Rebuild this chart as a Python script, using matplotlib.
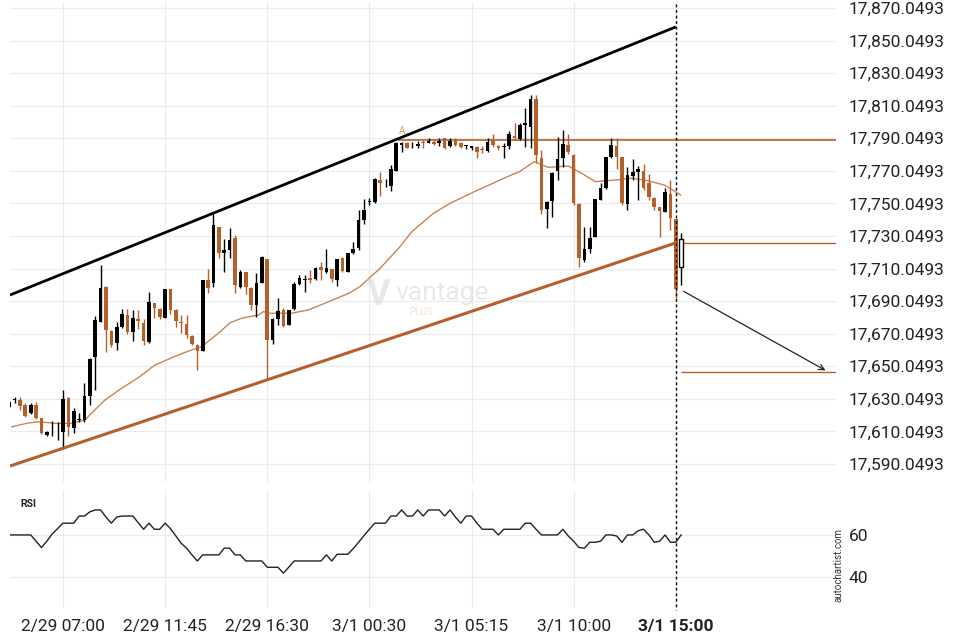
import matplotlib
matplotlib.use("Agg")
import matplotlib.pyplot as plt
from matplotlib.lines import Line2D

plt.rcParams['font.family'] = ['Roboto', 'DejaVu Sans']

# 15-minute candles (index 0 = first bar on the left)
opens = [17625.0, 17629.6, 17629.3, 17626.3, 17621.2, 17626.3, 17618.1, 17608.0, 17608.8, 17608.8,
         17609.9, 17630.8, 17612.0, 17617.3, 17617.1, 17631.8, 17655.6, 17677.4, 17698.5, 17671.7,
         17664.5, 17674.0, 17681.5, 17671.3, 17679.1, 17676.8, 17665.1, 17688.7, 17685.0, 17679.9,
         17697.3, 17684.6, 17677.4, 17676.0, 17668.6, 17663.1, 17659.4, 17703.0, 17700.9, 17735.4,
         17719.4, 17721.4, 17728.6, 17698.9, 17707.7, 17698.3, 17687.7, 17701.4, 17715.9, 17666.2,
         17678.9, 17684.6, 17675.4, 17685.0, 17700.4, 17703.2, 17704.1, 17703.6, 17710.8, 17708.1,
         17709.6, 17703.0, 17716.4, 17708.1, 17719.4, 17722.5, 17739.9, 17751.0, 17751.1, 17764.5,
         17762.3, 17760.7, 17770.2, 17785.9, 17787.3, 17786.3, 17785.3, 17787.4, 17787.3, 17787.9,
         17786.9, 17790.0, 17785.5, 17789.4, 17787.3, 17785.2, 17783.9, 17784.9, 17783.0, 17782.4,
         17789.0, 17785.3, 17784.5, 17785.3, 17791.4, 17789.6, 17798.2, 17797.2, 17814.2, 17777.8,
         17746.4, 17751.7, 17770.2, 17777.8, 17785.9, 17779.8, 17749.7, 17715.3, 17721.9, 17729.6,
         17752.2, 17759.3, 17778.4, 17785.3, 17778.4, 17749.5, 17767.1, 17769.5, 17769.9, 17762.4,
         17753.6, 17748.0, 17744.9, 17755.8, 17740.3, 17711.2]
highs = [17628.7, 17631.4, 17631.4, 17627.7, 17627.3, 17628.1, 17618.3, 17610.3, 17616.6, 17616.0,
         17635.5, 17631.4, 17624.6, 17621.2, 17640.0, 17655.3, 17680.9, 17712.2, 17699.3, 17672.3,
         17677.4, 17685.0, 17685.0, 17684.6, 17684.6, 17679.1, 17695.8, 17689.1, 17685.6, 17697.5,
         17697.5, 17685.2, 17681.5, 17681.5, 17669.3, 17663.5, 17703.2, 17709.6, 17744.0, 17735.8,
         17728.0, 17734.8, 17730.7, 17709.2, 17708.1, 17698.7, 17707.1, 17717.7, 17716.2, 17679.5,
         17691.8, 17685.6, 17684.9, 17701.8, 17706.1, 17706.1, 17709.2, 17710.7, 17714.3, 17721.9,
         17709.8, 17715.9, 17717.3, 17719.6, 17726.5, 17746.0, 17752.6, 17753.2, 17765.5, 17769.5,
         17764.9, 17773.6, 17787.8, 17787.8, 17787.8, 17787.9, 17788.6, 17789.0, 17790.0, 17789.0,
         17790.0, 17790.2, 17790.0, 17790.0, 17787.9, 17785.9, 17785.4, 17785.3, 17785.3, 17790.0,
         17792.7, 17785.9, 17787.3, 17794.7, 17799.4, 17799.6, 17808.6, 17816.6, 17816.6, 17782.9,
         17751.5, 17769.3, 17791.0, 17795.1, 17792.7, 17780.1, 17750.0, 17735.8, 17735.8, 17752.8,
         17762.4, 17778.6, 17790.0, 17790.0, 17778.6, 17772.2, 17777.1, 17773.0, 17774.3, 17768.1,
         17753.7, 17748.1, 17759.3, 17764.4, 17740.5, 17732.1]
lows = [17624.4, 17627.3, 17623.2, 17619.1, 17620.7, 17617.7, 17608.5, 17607.4, 17607.4, 17604.8,
        17599.3, 17607.4, 17608.9, 17616.0, 17616.0, 17626.3, 17635.5, 17677.2, 17659.0, 17661.7,
        17660.0, 17673.4, 17669.9, 17665.6, 17672.7, 17663.1, 17664.5, 17679.5, 17679.1, 17679.7,
        17681.9, 17674.0, 17670.3, 17667.2, 17663.1, 17647.8, 17659.2, 17694.9, 17698.5, 17716.4,
        17707.7, 17716.4, 17694.9, 17697.9, 17694.4, 17684.6, 17680.5, 17701.2, 17641.6, 17663.7,
        17675.4, 17674.3, 17675.1, 17684.6, 17699.9, 17695.8, 17701.0, 17703.0, 17703.0, 17707.5,
        17702.0, 17699.5, 17708.1, 17707.9, 17719.0, 17721.4, 17737.4, 17749.1, 17750.5, 17754.6,
        17760.3, 17757.9, 17770.0, 17781.4, 17783.9, 17783.9, 17783.9, 17783.9, 17786.9, 17785.9,
        17785.3, 17783.3, 17784.9, 17785.3, 17783.9, 17783.3, 17782.9, 17777.8, 17781.2, 17781.8,
        17784.9, 17782.9, 17777.8, 17783.3, 17789.0, 17789.0, 17784.9, 17783.9, 17774.7, 17743.6,
        17734.8, 17741.9, 17764.4, 17772.6, 17780.4, 17749.1, 17710.8, 17714.3, 17719.4, 17729.4,
        17751.9, 17759.1, 17778.2, 17771.0, 17749.1, 17746.0, 17764.4, 17752.2, 17758.3, 17752.2,
        17746.0, 17729.6, 17744.8, 17733.7, 17691.8, 17699.9]
closes = [17628.1, 17630.0, 17625.8, 17619.7, 17626.3, 17618.1, 17608.9, 17609.5, 17609.0, 17609.0,
          17630.0, 17612.9, 17622.6, 17617.6, 17631.8, 17654.7, 17678.5, 17697.9, 17672.3, 17663.1,
          17674.0, 17682.2, 17670.9, 17679.5, 17677.9, 17665.8, 17689.7, 17685.6, 17680.5, 17697.3,
          17684.6, 17677.9, 17676.4, 17669.3, 17663.7, 17659.6, 17703.0, 17698.3, 17736.8, 17719.8,
          17721.4, 17727.6, 17699.9, 17707.7, 17698.9, 17687.7, 17700.9, 17717.3, 17666.2, 17678.9,
          17684.0, 17675.0, 17684.6, 17700.6, 17704.4, 17703.6, 17703.0, 17710.2, 17709.2, 17710.2,
          17703.4, 17715.7, 17708.6, 17719.4, 17721.9, 17739.9, 17746.0, 17751.3, 17764.9, 17762.4,
          17762.5, 17771.0, 17787.3, 17787.3, 17784.3, 17786.5, 17786.4, 17787.2, 17788.4, 17786.4,
          17788.4, 17783.9, 17788.6, 17785.9, 17784.5, 17785.4, 17785.3, 17781.8, 17782.8, 17787.9,
          17785.9, 17783.9, 17785.3, 17792.7, 17790.2, 17798.2, 17799.6, 17814.2, 17779.8, 17746.0,
          17751.1, 17768.9, 17777.1, 17786.5, 17781.8, 17750.1, 17716.4, 17721.9, 17728.6, 17752.6,
          17759.3, 17778.4, 17785.9, 17778.4, 17750.1, 17767.5, 17769.5, 17771.0, 17759.3, 17753.8,
          17747.7, 17745.6, 17757.2, 17740.9, 17697.5, 17728.0]

# moving average, sampled along the thin orange curve (bar index, price)
ma_idx = [0.5, 3.2, 5.4, 8.5, 11.6, 14.1, 15.3, 17.8, 20.9, 24.0, 27.1, 31.4, 33.9, 35.8, 38.9,
          41.1, 43.2, 46.3, 47.3, 48.2, 52.5, 55.6, 58.7, 63.4, 65.2, 69.0, 72.7, 74.9, 78.9, 82.0,
          87.2, 93.4, 94.9, 97.7, 100.2, 104.0, 106.5, 109.0, 112.7, 115.8, 118.7, 121.9, 123.4, 124.9]
ma_val = [17612.9, 17615.0, 17616.0, 17615.0, 17615.0, 17617.1, 17621.2, 17629.3, 17636.5, 17643.0,
          17650.8, 17656.9, 17660.0, 17662.1, 17670.3, 17676.8, 17679.5, 17681.5, 17683.6, 17682.6,
          17682.6, 17684.6, 17688.7, 17695.2, 17698.9, 17710.2, 17723.5, 17732.7, 17743.9, 17750.1,
          17758.3, 17767.5, 17769.5, 17775.7, 17772.2, 17773.0, 17768.5, 17763.4, 17764.4, 17765.5,
          17764.0, 17761.3, 17758.3, 17755.2]

rsi = [60, 60, 60, 60, 60, 57, 54, 57, 60.5, 63, 65.6, 65.6, 65.6, 69, 69, 71, 71.9, 71.9, 68.5, 65.6,
       68.5, 69, 69, 69, 65.8, 62.7, 65.6, 62.7, 62.7, 65.6, 63, 59.5, 56, 53.7, 50.5, 47.6, 50.5, 50.5,
       50.5, 50.5, 53.7, 53.7, 50.5, 50.5, 47.6, 47.6, 47.6, 47.6, 44.6, 44.6, 44.6, 41.8, 44.6, 47.6,
       47.6, 47.6, 47.6, 47.6, 47.6, 50.5, 47.6, 50.8, 50.8, 50.8, 53.5, 56.5, 59.7, 62.7, 65.6, 65.6,
       65.6, 69, 69, 71.9, 69, 69, 71.9, 69, 71.9, 71.9, 71.9, 69, 71.9, 68.5, 65.6, 69, 69, 65.6,
       62.7, 62.7, 62.7, 60, 62.7, 62.7, 62.7, 62.7, 65.6, 65.6, 62.7, 60, 60, 60, 60, 62.7, 59.5,
       57, 54, 53.7, 56.5, 56.5, 57, 60, 60, 59.5, 56.5, 60, 60, 62, 62.7, 60, 56.5, 57, 60, 56.5,
       56.5, 60]

resistance = [17693.8, 17858.4]
support = [17588.8, 17725.8]
level_top = 17789.0
level_now = 17725.6
target = 17646.7
arrow_from = 17696.9

xticks = [10, 29, 48, 67, 86, 105, 124]
xlabels = ['2/29 07:00', '2/29 11:45', '2/29 16:30', '3/1 00:30', '3/1 05:15', '3/1 10:00', '3/1 15:00']
yticks = [17590.0493 + 20 * k for k in range(15)]

ORANGE = '#b5602b'
GRID = '#ebebeb'
TXT = '#222222'

fig = plt.figure(figsize=(9.6, 6.4), dpi=100)
ax = fig.add_axes([10 / 960, 1 - 482 / 640, 826 / 960, 480 / 640])
rax = fig.add_axes([10 / 960, 1 - 608 / 640, 826 / 960, 118 / 640])
x0, x1 = 0.15, 153.8

n = len(closes)
xs = list(range(n))
for i in xs:
    o, h, l, c = opens[i], highs[i], lows[i], closes[i]
    if i == n - 1:
        ax.vlines(i, l, h, color='black', lw=1, zorder=3)
        ax.bar(i, abs(c - o), bottom=min(o, c), width=0.68, color='white',
               edgecolor='black', lw=1, zorder=4)
        continue
    col = 'black' if c >= o else ORANGE
    ax.vlines(i, l, h, color=col, lw=1, zorder=3)
    ax.bar(i, max(abs(c - o), 0.45), bottom=min(o, c), width=0.68, color=col, lw=0, zorder=4)

ax.plot(ma_idx, ma_val, color='#c98454', lw=1, zorder=2)
ax.plot([x0, 124], resistance, color='black', lw=2, zorder=5, solid_capstyle='butt')
ax.plot([x0, 124], support, color=ORANGE, lw=2.2, zorder=5, solid_capstyle='butt')
ax.hlines(level_top, 72.3, x1, color=ORANGE, lw=1.2, zorder=2)
ax.hlines(level_now, 125.3, x1, color=ORANGE, lw=1, zorder=2)
ax.hlines(target, 125, x1, color=ORANGE, lw=1, zorder=2)
ax.text(73, level_top + 2.2, 'A', color='#d39a72', fontsize=7, ha='center', va='bottom')
ax.annotate('', xy=(152.3, target), xytext=(125, arrow_from),
            arrowprops=dict(arrowstyle='->', color='#222222', lw=0.9, mutation_scale=10))

# watermark
ax.text(68.8, 17694, 'V', fontsize=26, color='#c4c8c8', alpha=0.4, ha='center', va='center',
        fontweight='bold')
ax.text(71.8, 17695, 'vantage', fontsize=19, color='#c4c8c8', alpha=0.4, va='center')
ax.text(74.5, 17683.5, 'PLUS', fontsize=7, color='#e0b79a', alpha=0.4, va='center')

ax.set_xlim(x0, x1)
ax.set_ylim(17579.0, 17873.7)
ax.set_xticks(xticks)
ax.set_xticklabels([])
ax.set_yticks(yticks)
ax.set_yticklabels([f'{v:,.4f}' for v in yticks], fontsize=12.5, color=TXT)
ax.yaxis.tick_right()
ax.tick_params(length=0, pad=9)
ax.grid(True, color=GRID, lw=0.8)
for s in ax.spines.values():
    s.set_visible(False)

rax.plot(xs, rsi, color='#222222', lw=1)
rax.set_xlim(x0, x1)
rax.set_ylim(25.2, 81.4)
rax.set_yticks([40, 60])
rax.set_yticklabels(['40', '60'], fontsize=12.5, color=TXT)
rax.yaxis.tick_right()
rax.set_xticks(xticks)
rax.set_xticklabels(xlabels, fontsize=12.5, color=TXT)
rax.get_xticklabels()[-1].set_fontweight('bold')
rax.tick_params(length=0, pad=9)
rax.tick_params(axis='x', pad=8)
rax.grid(True, color=GRID, lw=0.8)
for s in rax.spines.values():
    s.set_visible(False)
rax.text(0.012, 0.86, 'RSI', transform=rax.transAxes, fontsize=7.5, fontweight='bold', color=TXT)

fig.text(838 / 960, 1 - 565 / 640, 'autochartist.com', rotation=90, fontsize=7, color='#333333',
         ha='center', va='center')

xd = 676 / 960
fig.add_artist(Line2D([xd, xd], [1 - 4 / 640, 1 - 610 / 640], transform=fig.transFigure,
                      color='black', lw=1, linestyle=(0, (2, 2))))

fig.savefig('out.png', dpi=100)
